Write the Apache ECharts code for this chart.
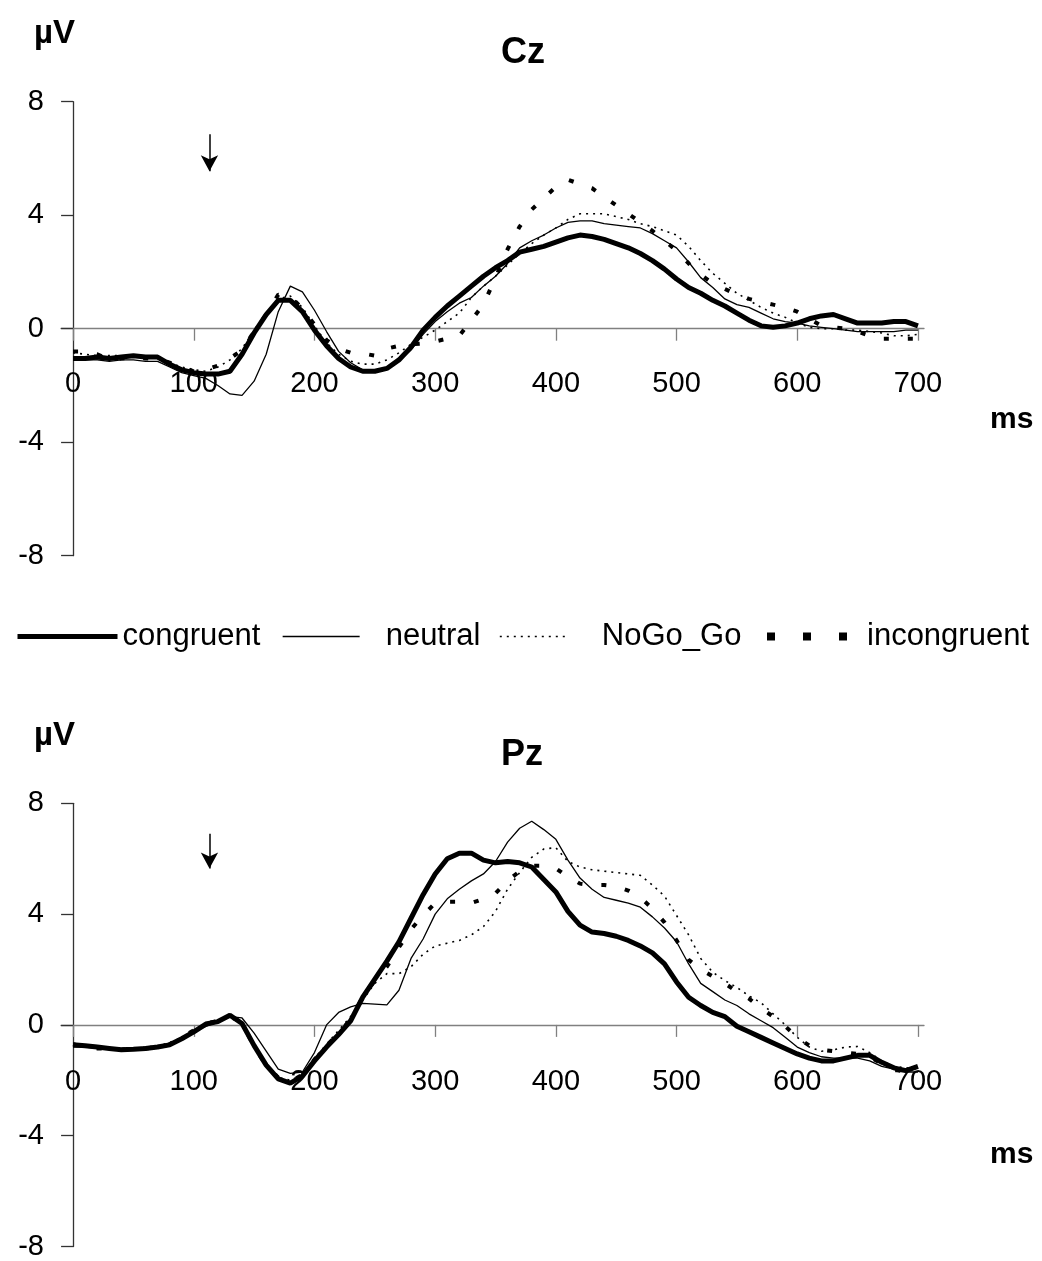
<!DOCTYPE html>
<html>
<head>
<meta charset="utf-8">
<script src="https://cdn.jsdelivr.net/npm/echarts@6/dist/echarts.min.js"></script>
<style>
  html, body { margin: 0; padding: 0; background: #fff; }
  #chart { width: 1042px; height: 1261px; }
</style>
</head>
<body>
<div id="chart"></div>
<script>
// time axis (ms)
const times = [0, 10, 20, 30, 40, 50, 60, 70, 80, 90, 100, 110, 120, 130, 140, 150, 160, 170, 180, 190,
  200, 210, 220, 230, 240, 250, 260, 270, 280, 290, 300, 310, 320, 330, 340, 350, 360, 370, 380, 390,
  400, 410, 420, 430, 440, 450, 460, 470, 480, 490, 500, 510, 520, 530, 540, 550, 560, 570, 580, 590,
  600, 610, 620, 630, 640, 650, 660, 670, 680, 690, 700];
const xTicks = [0, 100, 200, 300, 400, 500, 600, 700];
const legendNames = ['congruent', 'neutral', 'NoGo_Go', 'incongruent'];

// Cz (µV)
const czCongruent = [-1.05, -1.05, -1.0, -1.05, -1.0, -0.95, -1.0, -1.0, -1.25, -1.45, -1.55, -1.6, -1.6, -1.5, -0.9, -0.15, 0.5, 1.0, 1.0, 0.6,
  -0.05, -0.6, -1.05, -1.35, -1.5, -1.5, -1.4, -1.1, -0.65, -0.05, 0.4, 0.8, 1.15, 1.5, 1.85, 2.15, 2.4, 2.7, 2.8, 2.9,
  3.05, 3.2, 3.3, 3.25, 3.15, 3.0, 2.85, 2.65, 2.4, 2.1, 1.75, 1.45, 1.25, 1.0, 0.8, 0.55, 0.3, 0.1, 0.05, 0.1,
  0.2, 0.35, 0.45, 0.5, 0.35, 0.2, 0.2, 0.2, 0.25, 0.25, 0.1];
const czNeutral = [-1.1, -1.1, -1.1, -1.15, -1.1, -1.1, -1.15, -1.15, -1.35, -1.55, -1.65, -1.75, -2.0, -2.3, -2.35, -1.85, -0.9, 0.6, 1.5, 1.3,
  0.65, -0.1, -0.8, -1.2, -1.45, -1.5, -1.4, -1.15, -0.75, -0.2, 0.25, 0.6, 0.9, 1.1, 1.5, 1.85, 2.3, 2.85, 3.1, 3.3,
  3.55, 3.75, 3.8, 3.8, 3.7, 3.65, 3.6, 3.55, 3.35, 3.1, 2.85, 2.35, 1.8, 1.45, 1.05, 0.85, 0.75, 0.55, 0.35, 0.25,
  0.2, 0.1, 0.05, 0.0, -0.05, -0.1, -0.1, -0.1, -0.1, -0.05, -0.05];
const czNoGoGo = [-0.85, -0.9, -0.95, -0.95, -0.95, -1.0, -1.0, -1.0, -1.2, -1.35, -1.45, -1.5, -1.35, -1.1, -0.7, -0.05, 0.55, 1.05, 1.15, 0.75,
  0.1, -0.5, -0.9, -1.15, -1.25, -1.25, -1.1, -0.85, -0.55, -0.3, -0.05, 0.25, 0.55, 1.1, 1.5, 1.85, 2.25, 2.65, 3.0, 3.3,
  3.55, 3.85, 4.05, 4.05, 4.05, 3.95, 3.85, 3.7, 3.6, 3.45, 3.3, 2.9, 2.4, 1.95, 1.6, 1.25, 1.0, 0.75, 0.55, 0.4,
  0.2, 0.05, 0.0, 0.0, -0.05, -0.05, -0.1, -0.15, -0.25, -0.25, -0.2];
const czIncongruent = [-0.8, -0.8, -0.9, -1.1, -1.05, -1.0, -1.05, -1.05, -1.2, -1.35, -1.5, -1.45, -1.3, -1.05, -0.75, -0.1, 0.5, 1.2, 1.15, 0.7,
  0.15, -0.4, -0.7, -0.85, -0.87, -0.95, -0.7, -0.6, -0.55, -0.52, -0.45, -0.35, -0.25, 0.3, 0.85, 1.8, 2.8, 3.6, 4.2, 4.6,
  5.0, 5.25, 5.1, 4.95, 4.65, 4.35, 4.05, 3.75, 3.45, 3.1, 2.75, 2.3, 1.9, 1.6, 1.4, 1.2, 1.05, 0.95, 0.85, 0.75,
  0.6, 0.35, 0.1, 0.05, 0.0, -0.1, -0.25, -0.35, -0.35, -0.35, -0.35];

// Pz (µV)
const pzCongruent = [-0.72, -0.75, -0.8, -0.85, -0.9, -0.88, -0.85, -0.8, -0.72, -0.5, -0.25, 0.03, 0.12, 0.35, 0.05, -0.75, -1.45, -1.95, -2.1, -1.85,
  -1.3, -0.8, -0.35, 0.15, 1.0, 1.65, 2.3, 3.0, 3.85, 4.7, 5.45, 6.0, 6.2, 6.2, 5.95, 5.85, 5.9, 5.85, 5.7, 5.25,
  4.8, 4.1, 3.6, 3.35, 3.3, 3.2, 3.05, 2.85, 2.6, 2.2, 1.55, 1.0, 0.7, 0.45, 0.3, -0.05, -0.25, -0.45, -0.65, -0.85,
  -1.05, -1.2, -1.3, -1.3, -1.2, -1.1, -1.1, -1.35, -1.55, -1.65, -1.5];
const pzNeutral = [-0.8, -0.8, -0.85, -0.85, -0.9, -0.85, -0.85, -0.8, -0.7, -0.5, -0.25, -0.05, 0.1, 0.3, 0.25, -0.3, -0.95, -1.6, -1.75, -1.7,
  -1.0, 0.0, 0.45, 0.65, 0.78, 0.75, 0.72, 1.25, 2.4, 3.1, 4.0, 4.55, 4.9, 5.2, 5.45, 5.9, 6.6, 7.1, 7.35, 7.05,
  6.7, 5.95, 5.3, 4.9, 4.6, 4.5, 4.4, 4.25, 3.9, 3.5, 3.0, 2.2, 1.5, 1.2, 0.9, 0.7, 0.4, 0.15, -0.1, -0.45,
  -0.8, -1.0, -1.15, -1.2, -1.2, -1.2, -1.3, -1.5, -1.6, -1.7, -1.7];
const pzNoGoGo = [-0.75, -0.8, -0.8, -0.85, -0.85, -0.85, -0.8, -0.75, -0.65, -0.45, -0.2, 0.05, 0.15, 0.3, 0.05, -0.7, -1.4, -1.9, -2.0, -1.8,
  -1.2, -0.7, -0.2, 0.3, 0.9, 1.5, 1.85, 1.85, 2.1, 2.55, 2.85, 2.95, 3.05, 3.25, 3.55, 4.1, 4.9, 5.5, 6.05, 6.35,
  6.4, 5.9, 5.7, 5.6, 5.55, 5.5, 5.45, 5.4, 5.05, 4.65, 3.95, 3.25, 2.4, 1.9, 1.6, 1.35, 1.05, 0.8, 0.4, 0.0,
  -0.45, -0.8, -0.95, -0.9, -0.8, -0.78, -1.0, -1.3, -1.5, -1.55, -1.6];
const pzIncongruent = [-0.7, -0.8, -0.85, -0.85, -0.9, -0.85, -0.85, -0.8, -0.7, -0.45, -0.2, 0.05, 0.15, 0.3, 0.1, -0.8, -1.45, -1.9, -2.05, -1.8,
  -1.25, -0.75, -0.3, 0.2, 1.0, 1.6, 2.1, 2.8, 3.45, 3.95, 4.4, 4.45, 4.45, 4.4, 4.55, 4.75, 5.2, 5.55, 5.75, 5.75,
  5.65, 5.35, 5.1, 5.05, 5.05, 5.0, 4.85, 4.6, 4.2, 3.7, 3.05, 2.35, 2.0, 1.75, 1.5, 1.2, 0.95, 0.6, 0.3, -0.05,
  -0.45, -0.75, -0.9, -0.95, -1.0, -1.05, -1.15, -1.4, -1.6, -1.7, -1.7];

// stimulus arrows: [time, from µV, to µV]
const arrowCz = [113, 6.85, 5.55];
const arrowPz = [113, 6.9, 5.65];

const font = 'Liberation Sans, Arial, sans-serif';

const styles = {
  congruent: { color: '#000', width: 5, type: 'solid' },
  neutral: { color: '#000', width: 1.3, type: 'solid' },
  NoGo_Go: { color: '#000', width: 1.6, type: [2, 5] },
  incongruent: { color: '#000', width: 4, type: [5, 19] }
};

const pairs = vals => times.map((t, i) => [t, vals[i]]);

function arrowLine(a) {
  return {
    silent: true,
    symbol: ['none', 'arrow'],
    symbolSize: [13, 16],
    label: { show: false },
    lineStyle: { color: '#000', width: 1.5, type: 'solid' },
    data: [[{ coord: [a[0], a[1]] }, { coord: [a[0], a[2]] }]]
  };
}

function makeSeries(gi, vals, withArrow) {
  return legendNames.map((name, k) => {
    const s = {
      name,
      type: 'line',
      xAxisIndex: gi,
      yAxisIndex: gi,
      data: pairs(vals[k]),
      symbol: 'none',
      lineStyle: styles[name],
      itemStyle: { color: '#000' },
      z: 10 - k
    };
    if (k === 0) s.markLine = arrowLine(withArrow);
    return s;
  });
}

// labels stay at the grid edge, so pull them up to sit under the zero line
const xAxisBase = (gi, margin) => ({
  type: 'value',
  gridIndex: gi,
  min: -10,
  max: 705,
  axisLine: { onZero: true, lineStyle: { color: '#808080', width: 1.3 } },
  axisTick: { customValues: xTicks, length: 12, lineStyle: { color: '#808080', width: 1.3 } },
  axisLabel: { customValues: xTicks, margin, color: '#000', fontSize: 29, fontFamily: font },
  splitLine: { show: false }
});

const yAxisBase = gi => ({
  type: 'value',
  gridIndex: gi,
  min: -8,
  max: 8,
  interval: 4,
  axisLine: { show: true, onZero: true, lineStyle: { color: '#333', width: 1.3 } },
  axisTick: { show: true, length: 12, lineStyle: { color: '#333', width: 1.3 } },
  axisLabel: { margin: 17, color: '#000', fontSize: 29, fontFamily: font },
  splitLine: { show: false }
});

const txt = (text, left, top, size) => ({
  text, left, top,
  textStyle: { fontSize: size, fontWeight: 'bold', color: '#000', fontFamily: font }
});

const legendSpec = [
  { name: 'congruent', left: 10, w: 100, pad: 0, ls: { width: 5, type: 'solid' } },
  { name: 'neutral', left: 277, w: 77, pad: 21, ls: { width: 1.3, type: 'solid' } },
  { name: 'NoGo_Go', left: 494, w: 70, pad: 27, ls: { width: 1.6, type: [2, 5] } },
  { name: 'incongruent', left: 758, w: 80, pad: 15, ls: { width: 8, type: [8, 28] } }
];

const myChart = echarts.init(document.getElementById('chart'), null, { renderer: 'canvas' });

const option = {
  animation: false,
  backgroundColor: '#fff',
  title: [
    txt('µV', 29, 12, 33),
    txt('Cz', 496, 30, 36),
    txt('ms', 985, 400, 30),
    txt('µV', 29, 714, 33),
    txt('Pz', 496, 732, 36),
    txt('ms', 985, 1135, 30)
  ],
  legend: legendSpec.map(l => ({
    data: [l.name],
    left: l.left,
    top: 616,
    itemWidth: l.w,
    itemHeight: 14,
    lineStyle: l.ls,
    itemStyle: { opacity: 0 },
    textStyle: { fontSize: 31, color: '#000', fontFamily: font, padding: [0, 0, 0, l.pad] },
    selectedMode: false
  })),
  grid: [
    { left: 61, right: 118, top: 101.7, height: 454 },
    { left: 61, right: 118, top: 803.3, height: 450 }
  ],
  xAxis: [xAxisBase(0, -186), xAxisBase(1, -179)],
  yAxis: [yAxisBase(0), yAxisBase(1)],
  series: [
    ...makeSeries(0, [czCongruent, czNeutral, czNoGoGo, czIncongruent], arrowCz),
    ...makeSeries(1, [pzCongruent, pzNeutral, pzNoGoGo, pzIncongruent], arrowPz)
  ]
};

myChart.setOption(option);
window.addEventListener('resize', myChart.resize);
</script>
</body>
</html>
